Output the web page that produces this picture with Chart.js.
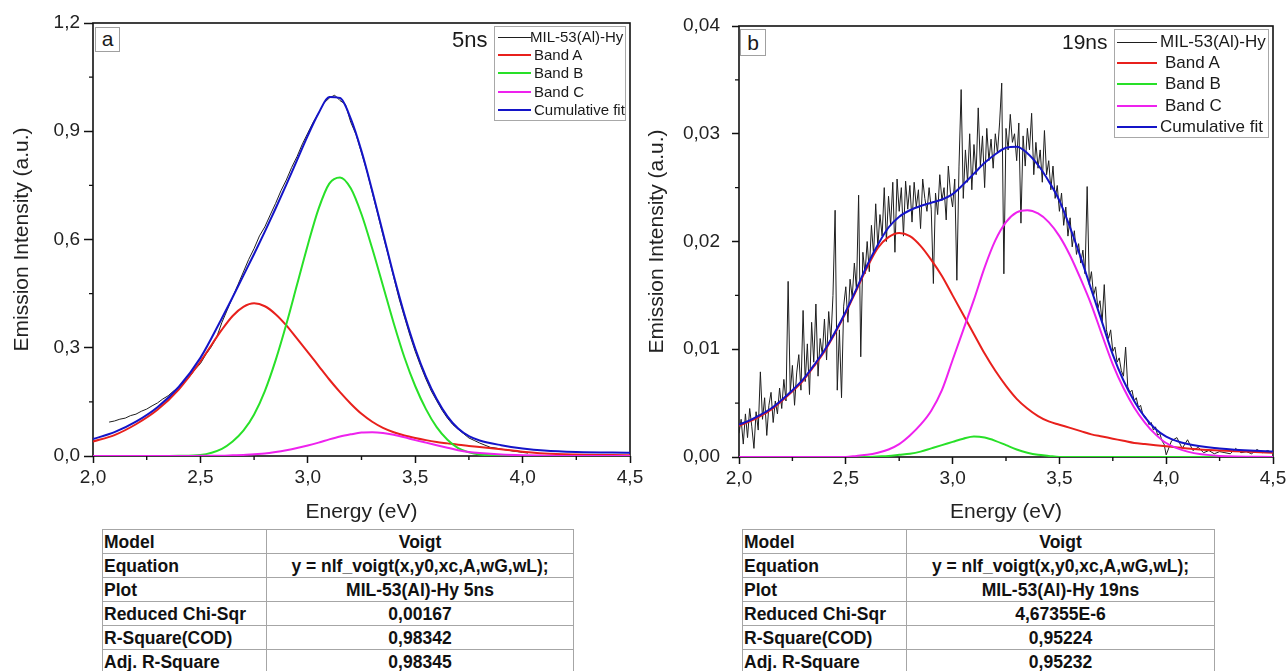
<!DOCTYPE html>
<html>
<head>
<meta charset="utf-8">
<script src="https://cdn.jsdelivr.net/npm/chart.js@4.4.1/dist/chart.umd.min.js"></script>
<style>
  html, body { margin: 0; padding: 0; background: #fff; }
  body { width: 1287px; height: 671px; overflow: hidden; position: relative; font-family: "Liberation Sans", Arial, sans-serif; color: #1a1a1a; }
  canvas { position: absolute; top: 0; }
  #chartA { left: 0; }
  #chartB { left: 640px; }
  .legend { position: absolute; background: #fff; border: 1px solid #a8a8a8; box-sizing: border-box; }
  .legend .swatch { position: absolute; }
  .legend .label { position: absolute; white-space: nowrap; }
  .tag { position: absolute; border: 1px solid #a0a0a0; box-sizing: border-box; text-align: center; font-size: 21px; line-height: 22px; background: #fff; }
  .note { position: absolute; white-space: nowrap; }
  table.fit { position: absolute; top: 529px; border-collapse: collapse; font-weight: bold; font-size: 17.5px; table-layout: fixed; }
  table.fit td { border: 1px solid #a6a6a6; height: 23px; padding: 0 1px; line-height: 22px; white-space: nowrap; overflow: hidden; color: #111; }
  table.fit td.v { text-align: center; }
</style>
</head>
<body>
<canvas id="chartA" width="660" height="528"></canvas>
<canvas id="chartB" width="660" height="528"></canvas>

<div class="tag" style="left:95px;top:27px;width:25px;height:25px;">a</div>
<div class="tag" style="left:740px;top:29px;width:26px;height:27px;line-height:25px;">b</div>
<div class="note" style="left:452px;top:27px;font-size:22px;line-height:26px;">5ns</div>
<div class="note" style="left:1062px;top:29px;font-size:21px;line-height:26px;">19ns</div>
<div id="legendA" class="legend" style="left:494px;top:26px;width:132px;height:95px;"></div>
<div id="legendB" class="legend" style="left:1114px;top:29px;width:155px;height:109px;"></div>

<table id="tableA" class="fit" style="left:102px;width:472px;"></table>
<table id="tableB" class="fit" style="left:742px;width:473px;"></table>

<script>
// ---- series names / colours ----
const seriesNames = ['MIL-53(Al)-Hy', 'Band A', 'Band B', 'Band C', 'Cumulative fit'];
const seriesColors = ['#1e1e1e', '#e8201c', '#28e028', '#ee22ee', '#1414c8'];

// ---- panel a : 5 ns ----
const rawEnergy5ns = [
  2.075, 2.1, 2.125, 2.15, 2.175, 2.2, 2.225, 2.25, 2.275, 2.3,
  2.325, 2.35, 2.375, 2.4, 2.425, 2.45, 2.475, 2.5, 2.525, 2.55,
  2.575, 2.6, 2.625, 2.65, 2.675, 2.7, 2.725, 2.75, 2.775, 2.8,
  2.825, 2.85, 2.875, 2.9, 2.925, 2.95, 2.975, 3.0, 3.025, 3.05,
  3.075, 3.1, 3.125, 3.15, 3.175, 3.2, 3.225, 3.25, 3.275, 3.3,
  3.325, 3.35, 3.375, 3.4, 3.425, 3.45, 3.475, 3.5, 3.525, 3.55,
  3.575, 3.6, 3.625, 3.65, 3.675, 3.7, 3.725, 3.75, 3.775, 3.8,
  3.825, 3.85, 3.875, 3.9, 3.925, 3.95, 3.975, 4.0, 4.025
];
const rawIntensity5ns = [
  0.094, 0.097, 0.102, 0.105, 0.112, 0.116, 0.124, 0.130, 0.139, 0.147,
  0.158, 0.167, 0.180, 0.190, 0.206, 0.220, 0.240, 0.256, 0.281, 0.302,
  0.328, 0.370, 0.405, 0.440, 0.475, 0.510, 0.545, 0.575, 0.610, 0.635,
  0.668, 0.700, 0.735, 0.765, 0.800, 0.830, 0.865, 0.895, 0.925, 0.950,
  0.978, 0.992, 1.000, 0.985, 0.975, 0.925, 0.890, 0.840, 0.790, 0.730,
  0.672, 0.612, 0.555, 0.495, 0.436, 0.385, 0.335, 0.290, 0.250, 0.213,
  0.180, 0.153, 0.127, 0.105, 0.087, 0.074, 0.062, 0.050, 0.043, 0.036,
  0.030, 0.024, 0.022, 0.019, 0.017, 0.014, 0.012, 0.010, 0.008
];
const fitEnergy5ns = [2.0, 2.1, 2.2, 2.3, 2.4, 2.5, 2.6, 2.65, 2.7, 2.75, 2.8, 2.85, 2.9, 2.95, 3.0, 3.05, 3.1, 3.15,
  3.2, 3.25, 3.3, 3.35, 3.4, 3.45, 3.5, 3.55, 3.6, 3.65, 3.7, 3.75, 3.8, 3.9, 4.0, 4.1, 4.25, 4.5];
const bandA5ns = [0.040, 0.058, 0.088, 0.128, 0.185, 0.262, 0.350, 0.388, 0.413, 0.423, 0.415, 0.393, 0.362, 0.325, 0.288, 0.250, 0.212, 0.177,
  0.145, 0.117, 0.095, 0.078, 0.066, 0.057, 0.050, 0.044, 0.039, 0.035, 0.031, 0.028, 0.025, 0.019, 0.012, 0.007, 0.004, 0.002];
const bandB5ns = [0, 0, 0, 0, 0.0005, 0.003, 0.02, 0.04, 0.07, 0.115, 0.18, 0.265, 0.365, 0.475, 0.585, 0.685, 0.755, 0.772,
  0.742, 0.67, 0.575, 0.472, 0.368, 0.273, 0.194, 0.13, 0.08, 0.045, 0.022, 0.01, 0.004, 0.001, 0, 0, 0, 0];
const bandC5ns = [0, 0, 0, 0, 0, 0.0005, 0.001, 0.002, 0.003, 0.005, 0.007, 0.011, 0.016, 0.022, 0.029, 0.037, 0.046, 0.054,
  0.06, 0.065, 0.066, 0.064, 0.059, 0.052, 0.044, 0.037, 0.03, 0.023, 0.016, 0.011, 0.008, 0.004, 0.002, 0.001, 0, 0];
const cumFit5ns = [0.047, 0.066, 0.095, 0.135, 0.192, 0.272, 0.382, 0.44, 0.5, 0.56, 0.622, 0.686, 0.752, 0.82, 0.888, 0.95, 0.995, 0.992,
  0.935, 0.845, 0.735, 0.618, 0.5, 0.392, 0.298, 0.22, 0.158, 0.11, 0.076, 0.055, 0.043, 0.03, 0.021, 0.015, 0.011, 0.009];

// ---- panel b : 19 ns ----
const rawEnergy19ns = [
  2.00, 2.01, 2.02, 2.03, 2.04, 2.05, 2.06, 2.07, 2.08, 2.09,
  2.10, 2.11, 2.12, 2.13, 2.14, 2.15, 2.16, 2.17, 2.18, 2.19,
  2.20, 2.21, 2.22, 2.23, 2.24, 2.25, 2.26, 2.27, 2.28, 2.29,
  2.30, 2.31, 2.32, 2.33, 2.34, 2.35, 2.36, 2.37, 2.38, 2.39,
  2.40, 2.41, 2.42, 2.43, 2.44, 2.45, 2.46, 2.47, 2.48, 2.49,
  2.50, 2.51, 2.52, 2.53, 2.54, 2.55, 2.56, 2.57, 2.58, 2.59,
  2.60, 2.61, 2.62, 2.63, 2.64, 2.65, 2.66, 2.67, 2.68, 2.69,
  2.70, 2.71, 2.72, 2.73, 2.74, 2.75, 2.76, 2.77, 2.78, 2.79,
  2.80, 2.81, 2.82, 2.83, 2.84, 2.85, 2.86, 2.87, 2.88, 2.89,
  2.90, 2.91, 2.92, 2.93, 2.94, 2.95, 2.96, 2.97, 2.98, 2.99,
  3.00, 3.01, 3.02, 3.03, 3.04, 3.05, 3.06, 3.07, 3.08, 3.09,
  3.10, 3.11, 3.12, 3.13, 3.14, 3.15, 3.16, 3.17, 3.18, 3.19,
  3.20, 3.21, 3.22, 3.23, 3.24, 3.25, 3.26, 3.27, 3.28, 3.29,
  3.30, 3.31, 3.32, 3.33, 3.34, 3.35, 3.36, 3.37, 3.38, 3.39,
  3.40, 3.41, 3.42, 3.43, 3.44, 3.45, 3.46, 3.47, 3.48, 3.49,
  3.50, 3.51, 3.52, 3.53, 3.54, 3.55, 3.56, 3.57, 3.58, 3.59,
  3.60, 3.61, 3.62, 3.63, 3.64, 3.65, 3.66, 3.67, 3.68, 3.69,
  3.70, 3.71, 3.72, 3.73, 3.74, 3.75, 3.76, 3.77, 3.78, 3.79,
  3.80, 3.81, 3.82, 3.83, 3.84, 3.85, 3.86, 3.87, 3.88, 3.89,
  3.90, 3.91, 3.92, 3.93, 3.94, 3.95, 3.96, 3.97, 3.98, 3.99,
  4.000, 4.025, 4.050, 4.075, 4.100, 4.125, 4.150, 4.175, 4.200, 4.225,
  4.250, 4.275, 4.300, 4.325, 4.350, 4.375, 4.400, 4.425, 4.450, 4.475, 4.500
];
const rawIntensity19ns = [
  0.0022, 0.0035, 0.0012, 0.0040, 0.0018, 0.0045, 0.0028, 0.0008, 0.0042, 0.0025,
  0.0079, 0.0035, 0.0055, 0.0020, 0.0048, 0.0060, 0.0032, 0.0052, 0.0040, 0.0064,
  0.0045, 0.0072, 0.0052, 0.0163, 0.0060, 0.0085, 0.0048, 0.0078, 0.0095, 0.0062,
  0.0136, 0.0070, 0.0105, 0.0058, 0.0125, 0.0088, 0.0142, 0.0075, 0.0110, 0.0095,
  0.0128, 0.0090, 0.0135, 0.0108, 0.0150, 0.0229, 0.0062, 0.0118, 0.0055, 0.0140,
  0.0158, 0.0125, 0.0165, 0.0148, 0.0180, 0.0155, 0.0243, 0.0093, 0.0190, 0.0170,
  0.0200, 0.0172, 0.0215, 0.0188, 0.0235, 0.0195, 0.0225, 0.0205, 0.0250, 0.0200,
  0.0242, 0.0215, 0.0255, 0.0190, 0.0258, 0.0228, 0.0250, 0.0205, 0.0256, 0.0230,
  0.0252, 0.0218, 0.0255, 0.0232, 0.0248, 0.0212, 0.0258, 0.0240, 0.0228, 0.0250,
  0.0230, 0.0161, 0.0245, 0.0225, 0.0262, 0.0238, 0.0250, 0.0220, 0.0270, 0.0245,
  0.0232, 0.0258, 0.0164, 0.0270, 0.0341, 0.0240, 0.0285, 0.0255, 0.0300, 0.0248,
  0.0290, 0.0262, 0.0324, 0.0270, 0.0298, 0.0250, 0.0305, 0.0275, 0.0295, 0.0268,
  0.0300, 0.0282, 0.0310, 0.0347, 0.0170, 0.0305, 0.0285, 0.0318, 0.0292, 0.0300,
  0.0275, 0.0310, 0.0217, 0.0298, 0.0270, 0.0305, 0.0285, 0.0319, 0.0262, 0.0292,
  0.0268, 0.0285, 0.0255, 0.0303, 0.0262, 0.0275, 0.0248, 0.0270, 0.0240, 0.0252,
  0.0228, 0.0245, 0.0215, 0.0232, 0.0205, 0.0222, 0.0195, 0.0210, 0.0188, 0.0198,
  0.0180, 0.0192, 0.0170, 0.0251, 0.0160, 0.0172, 0.0150, 0.0158, 0.0138, 0.0145,
  0.0125, 0.0160, 0.0118, 0.0110, 0.0118, 0.0098, 0.0102, 0.0088, 0.0092, 0.0080,
  0.0075, 0.0102, 0.0065, 0.0060, 0.0062, 0.0052, 0.0055, 0.0046, 0.0048, 0.0040,
  0.0038, 0.0035, 0.0030, 0.0032, 0.0025, 0.0028, 0.0020, 0.0022, 0.0015, 0.0012,
  0.0002, 0.0015, 0.0018, 0.0008, 0.0016, 0.0006, 0.0009, 0.0004, 0.0006, 0.0003,
  0.0005, 0.0004, 0.0003, 0.0008, 0.0004, 0.0005, 0.0003, 0.0007, 0.0004, 0.0006, 0.0004
];
const fitEnergy19ns = [2.0, 2.05, 2.1, 2.15, 2.2, 2.25, 2.3, 2.35, 2.4, 2.45, 2.5, 2.55, 2.6, 2.65, 2.7, 2.75, 2.8, 2.85, 2.9, 2.95,
  3.0, 3.05, 3.1, 3.15, 3.2, 3.25, 3.3, 3.35, 3.4, 3.45, 3.5, 3.55, 3.6, 3.65, 3.7, 3.75, 3.8, 3.85, 3.9, 3.95, 4.0, 4.1, 4.25, 4.5];
const bandA19ns = [0.0029, 0.0033, 0.0038, 0.0044, 0.0052, 0.0061, 0.0071, 0.0084, 0.0098, 0.0115, 0.0134, 0.0155, 0.0176, 0.0194, 0.0204, 0.0208, 0.0205, 0.0196, 0.0183, 0.0168,
  0.0150, 0.0132, 0.0114, 0.0096, 0.0080, 0.0066, 0.0054, 0.0045, 0.0038, 0.0033, 0.0030, 0.0027, 0.0024, 0.0021, 0.0019, 0.0017, 0.0015, 0.0013, 0.0012, 0.0011, 0.0010, 0.0008, 0.0006, 0.0004];
const bandB19ns = [0, 0, 0, 0, 0, 0, 0, 0, 0, 0, 0, 0, 0, 0.00005, 0.0001, 0.0002, 0.0003, 0.0005, 0.0008, 0.0011,
  0.0014, 0.0017, 0.0019, 0.0018, 0.0015, 0.0011, 0.0007, 0.0004, 0.0002, 0.0001, 0, 0, 0, 0, 0, 0, 0, 0, 0, 0, 0, 0, 0, 0];
const bandC19ns = [0, 0, 0, 0, 0, 0, 0, 0, 0, 0, 0, 0.0001, 0.0002, 0.0004, 0.0007, 0.0012, 0.0020, 0.0030, 0.0043, 0.0062,
  0.0090, 0.0118, 0.0146, 0.0176, 0.0201, 0.0218, 0.0227, 0.0229, 0.0226, 0.0218, 0.0205, 0.0187, 0.0165, 0.0141, 0.0113, 0.0086, 0.0064, 0.0046, 0.0032, 0.0021, 0.0013, 0.0005, 0.0001, 0];
const cumFit19ns = [0.0030, 0.0034, 0.0039, 0.0045, 0.0053, 0.0062, 0.0072, 0.0085, 0.0099, 0.0116, 0.0135, 0.0156, 0.0178, 0.0197, 0.0213, 0.0223, 0.0229, 0.0233, 0.0236, 0.0239,
  0.0244, 0.0253, 0.0263, 0.0273, 0.0281, 0.0287, 0.0288, 0.0282, 0.0271, 0.0256, 0.0238, 0.0213, 0.0185, 0.0155, 0.0125, 0.0095, 0.0071, 0.0052, 0.0037, 0.0026, 0.0019, 0.0012, 0.0008, 0.0005];

// ---- fit report tables ----
const tableLabels = ['Model', 'Equation', 'Plot', 'Reduced Chi-Sqr', 'R-Square(COD)', 'Adj. R-Square'];
const tableValues5ns = ['Voigt', 'y = nlf_voigt(x,y0,xc,A,wG,wL);', 'MIL-53(Al)-Hy 5ns', '0,00167', '0,98342', '0,98345'];
const tableValues19ns = ['Voigt', 'y = nlf_voigt(x,y0,xc,A,wG,wL);', 'MIL-53(Al)-Hy 19ns', '4,67355E-6', '0,95224', '0,95232'];

Chart.defaults.font.family = '"Liberation Sans", Arial, sans-serif';
Chart.defaults.color = '#222';

const toPoints = (xs, ys) => xs.map((x, i) => ({ x: x, y: ys[i] }));

function buildDatasets(rawX, rawY, fitX, bandA, bandB, bandC, cum) {
  const fits = [bandA, bandB, bandC, cum];
  const sets = [{
    label: seriesNames[0], data: toPoints(rawX, rawY), borderColor: seriesColors[0],
    borderWidth: 1, pointRadius: 0, tension: 0, order: 5
  }];
  fits.forEach((ys, i) => {
    sets.push({
      label: seriesNames[i + 1], data: toPoints(fitX, ys), borderColor: seriesColors[i + 1],
      borderWidth: 2, pointRadius: 0, cubicInterpolationMode: 'monotone', order: 4 - i
    });
  });
  return sets;
}

// box frame + minor ticks (Origin style)
const frameAndMinorTicks = {
  id: 'frameAndMinorTicks',
  beforeDatasetsDraw(chart) {
    const { ctx, chartArea: a, scales: { x, y } } = chart;
    ctx.save();
    ctx.strokeStyle = '#111';
    ctx.lineWidth = 1.6;
    ctx.strokeRect(a.left, a.top, a.right - a.left, a.bottom - a.top);
    ctx.lineWidth = 1.4;
    ctx.beginPath();
    for (let i = 0; i < x.ticks.length - 1; i++) {
      const px = x.getPixelForValue((x.ticks[i].value + x.ticks[i + 1].value) / 2);
      ctx.moveTo(px, a.bottom);
      ctx.lineTo(px, a.bottom + 4);
    }
    for (let i = 0; i < y.ticks.length - 1; i++) {
      const py = y.getPixelForValue((y.ticks[i].value + y.ticks[i + 1].value) / 2);
      ctx.moveTo(a.left, py);
      ctx.lineTo(a.left - 4, py);
    }
    ctx.stroke();
    ctx.restore();
  }
};

function makeChart(id, datasets, p) {
  return new Chart(document.getElementById(id), {
    type: 'line',
    data: { datasets: datasets },
    plugins: [frameAndMinorTicks],
    options: {
      responsive: false,
      animation: false,
      events: [],
      layout: { padding: p.padding },
      plugins: { legend: { display: false }, tooltip: { enabled: false } },
      scales: {
        x: {
          type: 'linear', min: 2, max: 4.5,
          afterFit: s => { s.height = p.xAxisHeight; },
          border: { display: false },
          grid: { drawOnChartArea: false, tickLength: 7, tickWidth: 1.5, tickColor: '#111' },
          ticks: { stepSize: 0.5, padding: 3, maxRotation: 0, font: { size: 19 },
                   callback: v => v.toFixed(1).replace('.', ',') },
          title: { display: true, text: 'Energy (eV)', font: { size: 21 }, padding: { top: 0, bottom: 3 } }
        },
        y: {
          type: 'linear', min: 0, max: p.yMax,
          afterFit: s => { s.width = p.yAxisWidth; },
          border: { display: false },
          grid: { drawOnChartArea: false, tickLength: p.yTickLength, tickWidth: 1.5, tickColor: '#111' },
          ticks: { stepSize: p.yStep, padding: p.yTickPadding, font: { size: 19 },
                   callback: v => v.toFixed(p.yDecimals).replace('.', ',') },
          title: { display: true, text: 'Emission Intensity (a.u.)', font: { size: 21 }, padding: { top: p.yTitlePad, bottom: 0 } }
        }
      }
    }
  });
}

makeChart('chartA',
  buildDatasets(rawEnergy5ns, rawIntensity5ns, fitEnergy5ns, bandA5ns, bandB5ns, bandC5ns, cumFit5ns),
  { padding: { left: 0, right: 30, top: 23, bottom: 0 }, xAxisHeight: 72, yAxisWidth: 93,
    yMax: 1.2, yStep: 0.3, yDecimals: 1, yTickLength: 9, yTickPadding: 4, yTitlePad: 10 });

makeChart('chartB',
  buildDatasets(rawEnergy19ns, rawIntensity19ns, fitEnergy19ns, bandA19ns, bandB19ns, bandC19ns, cumFit19ns),
  { padding: { left: 0, right: 27, top: 26, bottom: 0 }, xAxisHeight: 71, yAxisWidth: 99,
    yMax: 0.04, yStep: 0.01, yDecimals: 2, yTickLength: 7, yTickPadding: 12, yTitlePad: 5 });

// ---- legends (HTML) ----
function buildLegend(id, rows, lineX, fontSize) {
  const box = document.getElementById(id);
  seriesNames.forEach((name, i) => {
    const r = rows[i];
    const h = i === 0 ? 1 : 2;
    const sw = document.createElement('div');
    sw.className = 'swatch';
    sw.style.cssText = `left:${lineX[0]}px;width:${lineX[1] - lineX[0]}px;top:${r.y - h / 2}px;height:${h}px;background:${seriesColors[i]};`;
    box.appendChild(sw);
    const lb = document.createElement('div');
    lb.className = 'label';
    lb.textContent = name;
    lb.style.cssText = `left:${r.x}px;top:${r.y - fontSize * 0.6}px;font-size:${fontSize}px;line-height:${fontSize * 1.2}px;`;
    box.appendChild(lb);
  });
}
buildLegend('legendA',
  [{ x: 35, y: 10 }, { x: 39, y: 28 }, { x: 39, y: 46 }, { x: 39, y: 65 }, { x: 39, y: 83 }],
  [3, 36], 15);
buildLegend('legendB',
  [{ x: 45, y: 12 }, { x: 50, y: 33 }, { x: 50, y: 54 }, { x: 50, y: 76 }, { x: 45, y: 97 }],
  [2, 42], 17);

// ---- tables (HTML) ----
function buildTable(id, values) {
  const t = document.getElementById(id);
  const cg = document.createElement('colgroup');
  cg.innerHTML = '<col style="width:164px"><col>';
  t.appendChild(cg);
  tableLabels.forEach((label, i) => {
    const tr = document.createElement('tr');
    const a = document.createElement('td');
    a.textContent = label;
    const b = document.createElement('td');
    b.className = 'v';
    b.textContent = values[i];
    tr.appendChild(a);
    tr.appendChild(b);
    t.appendChild(tr);
  });
}
buildTable('tableA', tableValues5ns);
buildTable('tableB', tableValues19ns);
</script>
</body>
</html>
